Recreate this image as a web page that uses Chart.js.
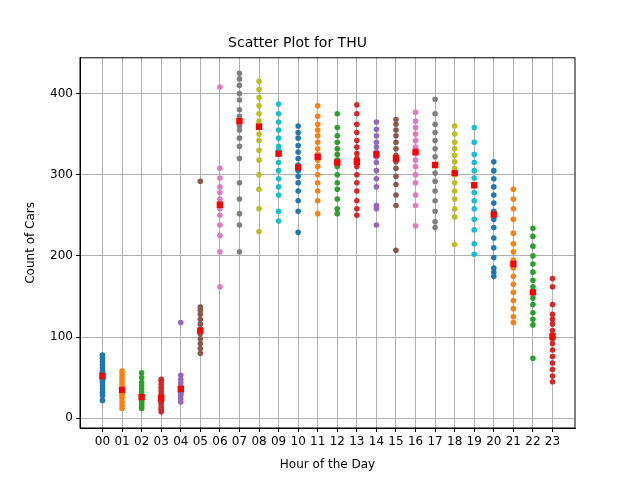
<!DOCTYPE html>
<html>
<head>
<script src="https://cdn.jsdelivr.net/npm/chart.js@4"></script>
<style>body{margin:0;background:#fff}</style>
</head>
<body>
<div style="width:640px;height:480px"><canvas id="c"></canvas></div>
<script>
const hourLabels = ["00","01","02","03","04","05","06","07","08","09","10","11","12","13","14","15","16","17","18","19","20","21","22","23"];
// counts per hour
const h00 = [22,28,32,36,40,44,48,50,54,58,62,66,70,74,78,46,56];
const h01 = [12,16,20,25,30,34,38,42,46,50,54,58,28,36];
const h02 = [12,14,17,20,24,28,32,36,40,44,50,56,22,26];
const h03 = [8,11,14,18,22,26,30,34,38,42,46,48,20];
const h04 = [20,24,28,32,36,40,44,48,53,118,30,38];
const h05 = [80,86,92,98,104,110,116,122,128,133,137,292,108];
const h06 = [162,205,225,238,250,258,265,270,278,285,296,308,408,262];
const h07 = [205,238,252,270,290,320,335,345,355,365,372,380,392,400,410,418,425,360];
const h08 = [230,258,282,300,318,330,342,350,358,366,375,385,395,405,415,362];
const h09 = [243,255,275,285,295,305,315,325,335,345,355,365,375,387,330];
const h10 = [229,255,268,280,290,298,305,312,320,328,336,345,352,360,310];
const h11 = [252,268,280,290,300,310,318,325,332,340,348,355,362,372,385,322];
const h12 = [252,258,270,282,290,300,310,318,325,332,340,348,358,375,315];
const h13 = [250,258,268,280,290,300,310,318,326,334,342,352,362,375,386,320];
const h14 = [238,258,262,285,295,305,315,322,328,334,340,348,356,365,325];
const h15 = [207,262,275,288,298,308,316,324,332,340,348,355,362,368,320];
const h16 = [237,262,275,290,300,310,318,326,334,342,350,358,366,377,328];
const h17 = [235,242,255,268,280,292,302,312,322,332,342,352,362,375,393,312];
const h18 = [214,248,258,270,280,290,300,308,316,324,332,340,350,360,302];
const h19 = [202,215,232,245,258,268,278,288,296,305,315,325,340,358,287];
const h20 = [175,180,185,198,210,222,235,245,255,265,275,285,295,305,316,250];
const h21 = [118,125,135,145,155,165,175,185,195,205,215,228,245,258,270,282,190];
const h22 = [74,115,122,130,140,148,155,162,170,180,190,200,212,224,234,156];
const h23 = [45,52,60,68,76,84,92,100,108,116,122,128,140,162,172,98];
const hourMeans = [52,35,26,25,36,108,263,366,359,326,309,322,315,316,325,320,328,312,302,287,251,190,155,101];
const tab10 = ["#1f77b4","#ff7f0e","#2ca02c","#d62728","#9467bd","#8c564b","#e377c2","#7f7f7f","#bcbd22","#17becf"];

const series = [h00,h01,h02,h03,h04,h05,h06,h07,h08,h09,h10,h11,h12,h13,h14,h15,h16,h17,h18,h19,h20,h21,h22,h23];
const datasets = series.map((vals, i) => ({
  data: vals.map(v => ({x: i, y: v})),
  backgroundColor: tab10[i % 10],
  borderWidth: 0,
  pointRadius: 2.8,
  order: 1
}));
datasets.push({
  data: hourMeans.map((v, i) => ({x: i, y: v})),
  backgroundColor: "red",
  borderWidth: 0,
  pointStyle: "rect",
  pointRadius: 4.5,
  order: 0
});

new Chart(document.getElementById("c"), {
  type: "scatter",
  data: {datasets: datasets},
  options: {
    responsive: true,
    maintainAspectRatio: false,
    animation: false,
    layout: {padding: {left: 20, right: 65, top: 0, bottom: 8}},
    plugins: {
      legend: {display: false},
      tooltip: {enabled: false},
      title: {display: true, text: "Scatter Plot for THU", color: "#000",
        font: {family: "DejaVu Sans", size: 14, weight: "normal"}, padding: {top: 35, bottom: 6}}
    },
    scales: {
      x: {
        type: "linear", min: -1.15, max: 24.15,
        afterBuildTicks: s => { s.ticks = hourLabels.map((l, i) => ({value: i})); },
        afterFit: s => { s.height = 44; },
        ticks: {autoSkip: false, maxRotation: 0, color: "#000", font: {family: "DejaVu Sans", size: 12},
          callback: v => hourLabels[v]},
        grid: {color: "#b0b0b0", drawTicks: true, tickColor: "#000", tickLength: 4},
        border: {color: "#000"},
        title: {display: true, text: "Hour of the Day", color: "#000", font: {family: "DejaVu Sans", size: 12}, padding: 0}
      },
      y: {
        min: -12, max: 444,
        afterBuildTicks: s => { s.ticks = [0,100,200,300,400].map(v => ({value: v})); },
        afterFit: s => { s.width = 60; },
        ticks: {color: "#000", font: {family: "DejaVu Sans", size: 12}},
        grid: {color: "#b0b0b0", tickColor: "#000", tickLength: 4},
        border: {color: "#000"},
        title: {display: true, text: "Count of Cars", color: "#000", font: {family: "DejaVu Sans", size: 12}}
      }
    }
  },
  plugins: [{
    id: "frame",
    afterDraw: c => {
      const a = c.chartArea, g = c.ctx;
      g.save(); g.strokeStyle = "#000"; g.lineWidth = 1;
      g.strokeRect(a.left, a.top, a.right - a.left, a.bottom - a.top);
      g.restore();
    }
  }]
});
</script>
</body>
</html>
